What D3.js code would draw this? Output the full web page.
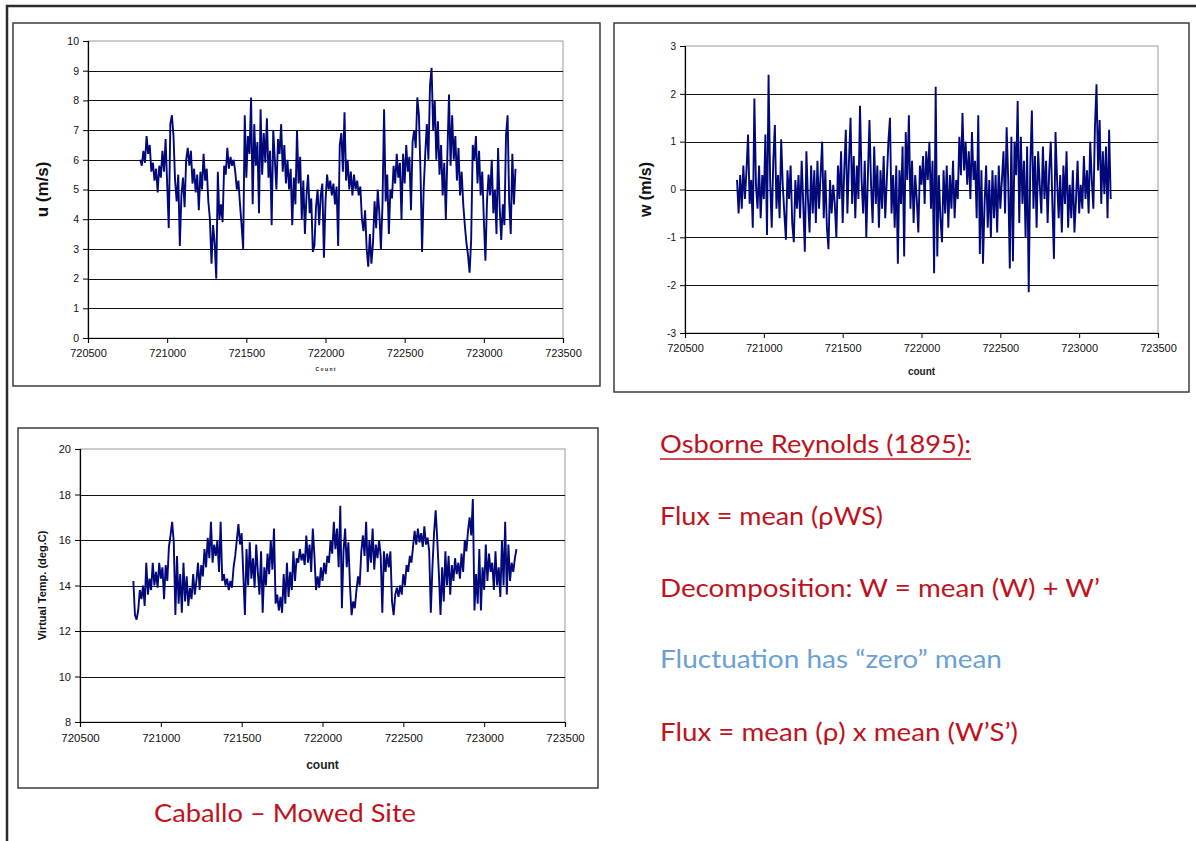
<!DOCTYPE html>
<html>
<head>
<meta charset="utf-8">
<script src="https://cdn.jsdelivr.net/npm/d3@7"></script>
<style>
body { margin: 0; background: #fff; }
svg { display: block; font-family: "Liberation Sans", Arial, sans-serif; }
</style>
</head>
<body>
<div id="slide"></div>
<script>
// samples are every 10 counts starting here
const countStart = 720830, countStep = 10;

const countTicks = [720500, 721000, 721500, 722000, 722500, 723000, 723500];
const uTicks = [0, 1, 2, 3, 4, 5, 6, 7, 8, 9, 10];
const wTicks = [-3, -2, -1, 0, 1, 2, 3];
const tempTicks = [8, 10, 12, 14, 16, 18, 20];

const uValues = [
  6.0, 5.8, 6.3, 5.9, 6.8, 6.2, 6.5, 5.6, 5.9, 5.3, 5.7, 4.9, 5.8, 5.4, 6.3, 5.6, 6.7, 5.2, 3.7, 7.2,
  7.5, 6.8, 5.3, 4.6, 5.5, 3.1, 4.8, 5.4, 4.4, 6.0, 6.4, 5.8, 6.3, 5.2, 5.7, 4.9, 5.5, 4.3, 5.6, 5.0,
  6.2, 5.3, 5.7, 4.6, 4.0, 2.5, 3.8, 3.2, 2.0, 5.6, 4.0, 4.5, 3.9, 5.8, 5.5, 6.4, 5.7, 6.1, 5.8, 6.0,
  5.6, 5.0, 5.3, 4.5, 3.8, 3.0, 7.5, 5.4, 6.8, 6.2, 8.1, 4.5, 7.2, 5.8, 6.6, 4.2, 7.7, 5.5, 6.9, 5.9,
  7.4, 5.4, 6.3, 3.8, 7.0, 6.0, 5.0, 6.7, 6.2, 7.2, 5.6, 6.5, 5.2, 6.0, 5.0, 5.7, 3.8, 5.4, 4.5, 7.0,
  5.2, 6.1, 4.0, 5.3, 3.5, 4.8, 5.5, 4.2, 4.7, 2.9, 3.1, 4.4, 5.0, 3.8, 4.8, 5.2, 2.7, 4.6, 5.5, 5.0,
  5.3, 4.8, 5.2, 4.5, 5.1, 3.1, 6.5, 6.9, 5.6, 7.6, 5.3, 6.0, 5.0, 5.6, 4.8, 5.5, 5.0, 5.3, 4.8, 5.1,
  4.0, 3.6, 4.3, 3.0, 2.4, 3.5, 2.5, 3.2, 4.6, 3.7, 5.0, 4.2, 3.0, 4.5, 7.7, 4.6, 5.5, 3.5, 5.0, 4.7,
  5.8, 5.2, 6.2, 5.4, 5.9, 4.0, 6.2, 5.2, 6.5, 5.6, 6.1, 4.3, 6.6, 7.0, 6.4, 8.1, 7.5, 5.6, 2.9, 5.0,
  6.2, 7.2, 6.0, 8.5, 9.1, 7.0, 8.0, 6.0, 7.3, 5.5, 6.5, 4.8, 5.9, 4.0, 6.2, 8.2, 5.8, 7.5, 6.0, 6.8,
  5.3, 6.4, 4.8, 5.6, 4.5, 3.8, 3.2, 2.8, 2.2, 3.3, 6.5, 6.0, 6.8, 5.2, 6.3, 4.8, 5.6, 4.0, 2.6, 4.6,
  5.5, 4.8, 6.0, 4.2, 5.0, 3.5, 6.4, 4.4, 3.3, 4.5, 3.8, 6.8, 7.5, 4.6, 3.5, 6.2, 4.5, 5.7
];

const wValues = [
  0.2, -0.5, 0.3, -0.4, 0.5, -0.2, 0.4, 1.15, -0.3, 0.2, -0.8, 1.9, 0.1, -0.4, 0.5, -0.6, 0.3, -0.2, 1.15, -0.95,
  2.4, 0.2, -0.8, 0.6, 1.35, -0.4, 0.3, -0.6, 1.05, 0.1, -0.5, -1.05, 0.4, -0.2, 0.5, -0.7, -1.1, 0.2, -0.4, 0.3,
  -0.6, 0.6, -0.3, -1.3, 0.8, -0.2, -0.9, 0.5, -0.5, 0.4, -0.7, 0.6, -0.4, 0.3, 1.0, -0.6, 0.4, -0.8, -1.25, 0.2,
  -0.5, 0.1, -0.3, -1.0, 0.5, -0.2, 0.8, -0.7, 0.4, 1.25, -0.5, 0.6, 1.5, -0.3, 0.7, -0.6, 0.5, -0.2, 1.75, 0.2,
  -0.5, 0.6, -1.0, 0.3, 1.45, 0.1, -0.7, 0.9, -0.3, 0.5, -0.8, 0.4, -0.4, 0.7, -0.6, 0.2, 1.0, 1.5, -0.5, 0.3,
  -0.8, 0.5, -1.55, 0.4, -0.3, 0.9, -1.4, 1.2, 0.2, 1.55, -0.4, 0.6, -0.7, 0.3, -0.2, -0.9, 0.5, 0.1, 0.7, -0.3,
  0.8, 0.2, 1.0, -0.4, 0.6, -1.75, 2.15, -1.4, 0.3, -0.6, -1.1, 0.4, -0.5, 0.5, -0.8, 0.3, -0.4, 0.6, -0.6, 0.2,
  -0.2, 1.1, 0.3, 1.6, 0.4, 1.0, 0.1, 0.8, -0.2, 1.2, 0.2, 0.6, -0.6, 1.55, -1.35, 0.4, -1.55, -0.3, 0.5, -0.8,
  0.2, -1.0, 0.4, -0.6, 0.3, -0.9, 0.5, -0.4, 0.2, 0.8, -0.5, 1.3, 0.2, -1.65, 1.1, -1.5, 1.0, 0.3, 1.85, -0.7,
  1.1, -0.3, 0.6, -1.0, 0.9, -2.15, 0.5, 1.65, -0.4, 0.7, -0.8, 0.8, 0.1, -0.5, 0.9, -0.2, 0.6, -0.7, 0.4, 1.0,
  -0.3, -1.45, 1.2, 0.2, -0.6, 0.3, -0.9, 0.5, -0.3, 0.8, -0.8, 0.1, -0.6, 0.4, -0.9, -0.2, 0.6, -0.5, 0.1, -0.4,
  0.7, -0.2, 0.4, -0.5, 1.0, 0.2, -0.4, 1.3, 2.2, 0.4, 1.45, -0.3, 0.8, -0.1, 0.9, -0.6, 1.25, -0.2
];

const tempValues = [
  14.2, 12.7, 12.5, 12.9, 13.8, 13.4, 14.0, 13.1, 15.0, 13.6, 14.3, 13.8, 15.0, 14.0, 14.6, 13.9, 15.0, 14.3, 14.8, 13.4,
  14.9, 14.2, 15.7, 16.2, 16.8, 15.9, 12.7, 15.3, 13.2, 14.5, 12.8, 15.0, 13.3, 14.4, 13.1, 13.9, 13.4, 14.5, 13.6, 14.2,
  15.0, 13.8, 14.9, 14.4, 15.6, 14.8, 16.1, 15.2, 16.8, 15.0, 15.8, 15.3, 16.0, 14.6, 16.8, 14.2, 14.5, 14.0, 14.3, 13.8,
  14.2, 13.9, 14.8, 15.3, 16.0, 16.7, 15.8, 16.3, 14.5, 12.7, 15.6, 14.0, 15.9, 14.3, 15.2, 13.9, 15.8, 14.6, 13.6, 15.5,
  12.8, 14.8, 14.0, 15.4, 14.5, 16.0, 14.7, 16.5, 13.2, 13.6, 12.9, 13.5, 12.8, 14.5, 13.2, 15.0, 13.5, 14.6, 13.8, 15.5,
  14.2, 15.2, 15.0, 15.6, 15.1, 15.4, 14.9, 16.2, 15.0, 15.8, 14.6, 16.5, 15.3, 13.8, 14.4, 13.9, 14.8, 14.2, 15.0, 14.5,
  15.3, 15.0, 16.0, 15.4, 16.8, 15.6, 16.5, 14.8, 17.5, 13.0, 15.5, 16.5, 14.8, 15.9, 14.0, 12.7, 13.3, 13.0, 13.8, 14.4,
  14.0, 15.5, 16.2, 15.3, 16.8, 14.6, 16.0, 15.0, 16.5, 14.7, 15.8, 15.2, 16.0, 15.3, 12.8, 15.5, 14.6, 15.4, 14.8, 15.5,
  13.3, 12.7, 13.6, 13.9, 13.5, 14.0, 13.6, 14.5, 14.0, 14.9, 14.6, 15.3, 15.0, 15.7, 16.4, 15.8, 16.5, 15.9, 16.3, 15.7,
  16.6, 15.8, 16.1, 15.5, 12.8, 14.8, 16.3, 17.3, 16.0, 14.5, 12.7, 14.8, 13.3, 15.5, 14.0, 15.3, 13.6, 14.9, 14.2, 15.2,
  14.5, 15.0, 14.3, 15.4, 14.6, 16.0, 15.5, 16.4, 17.0, 16.2, 17.8, 12.9, 14.5, 13.2, 15.6, 12.9, 14.8, 13.8, 15.8, 14.2,
  15.4, 14.6, 15.0, 13.8, 15.5, 14.0, 14.8, 13.5, 16.0, 14.0, 16.8, 13.6, 15.8, 14.2, 15.0, 14.6, 15.2, 15.6
];

const notes = [
  { text: "Osborne Reynolds (1895):", color: "#c0121c", underline: true },
  { text: "Flux = mean (\u03c1WS)", color: "#c0121c" },
  { text: "Decomposition: W = mean (W) + W\u2019", color: "#c0121c" },
  { text: "Fluctuation has \u201czero\u201d  mean", color: "#6a9fd8" },
  { text: "Flux = mean (\u03c1) x mean (W\u2019S\u2019)", color: "#c0121c" }
];
const siteTitle = "Caballo \u2013 Mowed Site";

const W = 1196, H = 841;
const svg = d3.select("#slide").append("svg")
  .attr("width", W)
  .attr("height", H);

svg.append("rect").attr("width", W).attr("height", H).attr("fill", "#fff");

// slide frame (top and left edges only are visible)
svg.append("path")
  .attr("d", "M7," + H + "V6H" + W)
  .attr("fill", "none")
  .attr("stroke", "#2a2a2a")
  .attr("stroke-width", 2.5);

function drawPanel(cfg, values, yTicks) {
  const g = svg.append("g");

  g.append("rect")
    .attr("x", cfg.box[0]).attr("y", cfg.box[1])
    .attr("width", cfg.box[2]).attr("height", cfg.box[3])
    .attr("fill", "#fff")
    .attr("stroke", "#3c3c3c")
    .attr("stroke-width", 1.5);

  const x = d3.scaleLinear()
    .domain([countTicks[0], countTicks[countTicks.length - 1]])
    .range([cfg.left, cfg.right]);
  const y = d3.scaleLinear()
    .domain([yTicks[0], yTicks[yTicks.length - 1]])
    .range([cfg.bottom, cfg.top]);

  // plot area border
  g.append("rect")
    .attr("x", cfg.left).attr("y", cfg.top)
    .attr("width", cfg.right - cfg.left).attr("height", cfg.bottom - cfg.top)
    .attr("fill", "none")
    .attr("stroke", "#9a9a9a");

  // gridlines
  g.append("g")
    .selectAll("line")
    .data(yTicks.slice(1, -1))
    .join("line")
    .attr("x1", cfg.left).attr("x2", cfg.right)
    .attr("y1", d => Math.round(y(d)) + 0.5)
    .attr("y2", d => Math.round(y(d)) + 0.5)
    .attr("stroke", "#111")
    .attr("stroke-width", 1.2);

  const line = d3.line()
    .x((d, i) => x(countStart + i * countStep))
    .y(d => y(d));

  g.append("path")
    .datum(values)
    .attr("fill", "none")
    .attr("stroke", "#00087a")
    .attr("stroke-width", 1.9)
    .attr("stroke-linejoin", "miter")
    .attr("stroke-miterlimit", 3)
    .attr("d", line);

  const yAxis = g.append("g")
    .attr("transform", "translate(" + cfg.left + ",0)")
    .call(d3.axisLeft(y).tickValues(yTicks).tickSize(5).tickPadding(4).tickFormat(d => String(d)));
  const xAxis = g.append("g")
    .attr("transform", "translate(0," + cfg.bottom + ")")
    .call(d3.axisBottom(x).tickValues(countTicks).tickSize(5).tickPadding(cfg.xPad).tickFormat(d => String(d)));

  [yAxis, xAxis].forEach(a => {
    a.select(".domain").attr("stroke", "#000").attr("stroke-width", 1.2);
    a.selectAll(".tick line").attr("stroke", "#000");
    a.selectAll("text")
      .attr("fill", "#111")
      .style("font-family", "'Liberation Sans', Arial, sans-serif");
  });
  yAxis.selectAll("text").style("font-size", cfg.yFont + "px");
  xAxis.selectAll("text").style("font-size", cfg.xFont + "px");

  g.append("text")
    .attr("transform", "translate(" + cfg.yLabelX + "," + ((cfg.top + cfg.bottom) / 2) + ") rotate(-90)")
    .attr("text-anchor", "middle")
    .attr("font-weight", "bold")
    .attr("font-size", cfg.yLabelSize)
    .attr("fill", "#111")
    .text(cfg.yLabel);

  g.append("text")
    .attr("x", (cfg.left + cfg.right) / 2)
    .attr("y", cfg.xLabelY)
    .attr("text-anchor", "middle")
    .attr("font-weight", "bold")
    .attr("font-size", cfg.xLabelSize)
    .attr("fill", "#222")
    .text(cfg.xLabel);
}

drawPanel({
  box: [13, 23, 587, 363],
  left: 88, right: 563, top: 41, bottom: 338,
  yFont: 10.5, xFont: 11, xPad: 6,
  yLabel: "u (m/s)", yLabelX: 48, yLabelSize: 17,
  xLabel: "C o u n t", xLabelY: 371, xLabelSize: 5
}, uValues, uTicks);

drawPanel({
  box: [614, 23, 575, 369],
  left: 685, right: 1158, top: 46, bottom: 333,
  yFont: 10, xFont: 11, xPad: 6,
  yLabel: "w (m/s)", yLabelX: 651, yLabelSize: 16,
  xLabel: "count", xLabelY: 375, xLabelSize: 10
}, wValues, wTicks);

drawPanel({
  box: [18, 428, 580, 360],
  left: 80, right: 565, top: 449, bottom: 722,
  yFont: 11, xFont: 11.5, xPad: 7,
  yLabel: "Virtual Temp. (deg.C)", yLabelX: 46, yLabelSize: 11,
  xLabel: "count", xLabelY: 769, xLabelSize: 12
}, tempValues, tempTicks);

// slide text
const noteLayout = [
  { y: 453, len: 311 },
  { y: 525, len: 223 },
  { y: 597, len: 440 },
  { y: 668, len: 342 },
  { y: 741, len: 358 }
];
const noteG = svg.append("g")
  .style("font-family", "Lato, 'Open Sans', sans-serif");

noteG.selectAll("text")
  .data(notes)
  .join("text")
  .attr("x", 660)
  .attr("y", (d, i) => noteLayout[i].y)
  .attr("font-size", 25.5)
  .attr("fill", d => d.color)
  .attr("textLength", (d, i) => noteLayout[i].len)
  .attr("lengthAdjust", "spacingAndGlyphs")
  .text(d => d.text);

notes.forEach((d, i) => {
  if (!d.underline) return;
  noteG.append("line")
    .attr("x1", 660).attr("x2", 660 + noteLayout[i].len)
    .attr("y1", noteLayout[i].y + 6).attr("y2", noteLayout[i].y + 6)
    .attr("stroke", d.color)
    .attr("stroke-width", 1.6);
});

svg.append("text")
  .attr("x", 154)
  .attr("y", 822)
  .attr("font-size", 25.5)
  .attr("fill", "#c0121c")
  .attr("textLength", 262)
  .attr("lengthAdjust", "spacingAndGlyphs")
  .style("font-family", "Lato, 'Open Sans', sans-serif")
  .text(siteTitle);
</script>
</body>
</html>
